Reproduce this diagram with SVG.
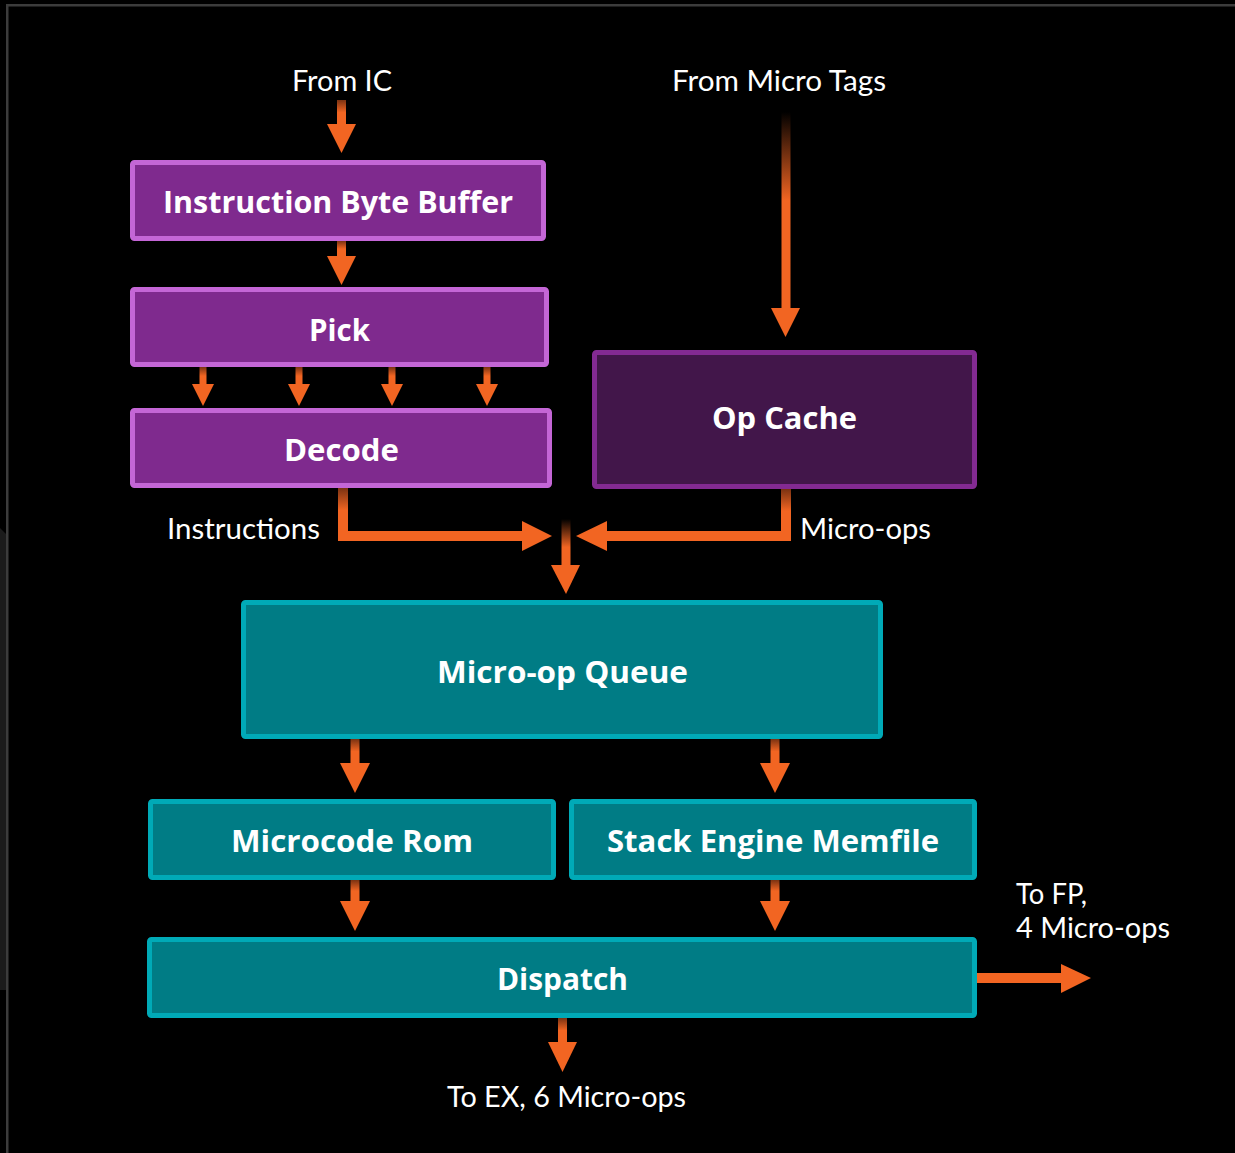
<svg xmlns="http://www.w3.org/2000/svg" width="1235" height="1153" viewBox="0 0 1235 1153">
  <defs>
    <style>
      .lbl { font-family: Lato, "Open Sans", "Liberation Sans", sans-serif; font-size: 29px; fill: #ffffff; }
      .name { font-family: "Open Sans", "Liberation Sans", sans-serif; font-size: 30px; font-weight: bold; fill: #ffffff; }
      .fe { fill: #7f2a8e; stroke: #c466d6; stroke-width: 5; }
      .oc { fill: #42164a; stroke: #832a92; stroke-width: 5; }
      .be { fill: #007c85; stroke: #00aab7; stroke-width: 5; }
      .head { fill: #f26522; }
      .flat { fill: #f26522; }
      .shaft { fill: url(#fade); }
    </style>
    <!-- short shafts: dim at the source end, full orange toward the head -->
    <linearGradient id="fade" x1="0" y1="0" x2="0" y2="1">
      <stop offset="0" stop-color="#7a3212"/>
      <stop offset="0.5" stop-color="#f26522"/>
      <stop offset="1" stop-color="#f26522"/>
    </linearGradient>
    <!-- long shafts that emerge out of the dark -->
    <linearGradient id="emerge" x1="0" y1="0" x2="0" y2="1">
      <stop offset="0" stop-color="#000000"/>
      <stop offset="0.45" stop-color="#f26522"/>
      <stop offset="1" stop-color="#f26522"/>
    </linearGradient>
    <linearGradient id="emergeShort" x1="0" y1="0" x2="0" y2="1">
      <stop offset="0" stop-color="#000000"/>
      <stop offset="0.6" stop-color="#f26522"/>
      <stop offset="1" stop-color="#f26522"/>
    </linearGradient>
  </defs>

  <!-- backdrop and frame -->
  <rect x="0" y="0" width="1235" height="1153" fill="#000000"/>
  <polygon points="0,528 6,534 6,990 0,990" fill="#1b1b1b"/>
  <rect x="6" y="4" width="1229" height="2.5" fill="#3c3c3c"/>
  <rect x="6" y="4" width="2.5" height="1149" fill="#3c3c3c"/>

  <!-- connectors -->
  <g id="connectors">
    <!-- from IC into the byte buffer -->
    <rect class="shaft" x="337" y="100" width="9" height="25"/>
    <polygon class="head" points="327,124 356,124 341.5,153"/>
    <!-- byte buffer to pick -->
    <rect class="shaft" x="337" y="241" width="9" height="16"/>
    <polygon class="head" points="327,256 356,256 341.5,285"/>
    <!-- pick to decode, four lanes -->
    <rect class="shaft" x="199.5" y="367" width="7" height="18"/>
    <polygon class="head" points="192,384 214,384 203,406"/>
    <rect class="shaft" x="295.5" y="367" width="7" height="18"/>
    <polygon class="head" points="288,384 310,384 299,406"/>
    <rect class="shaft" x="388.5" y="367" width="7" height="18"/>
    <polygon class="head" points="381,384 403,384 392,406"/>
    <rect class="shaft" x="483.5" y="367" width="7" height="18"/>
    <polygon class="head" points="476,384 498,384 487,406"/>
    <!-- from micro tags into op cache -->
    <rect x="781.5" y="112" width="9" height="197" fill="url(#emerge)"/>
    <polygon class="head" points="771,308 800,308 785.5,337"/>
    <!-- decode output (instructions) -->
    <rect class="shaft" x="338" y="488" width="10" height="45"/>
    <rect class="flat" x="338" y="531" width="185" height="10"/>
    <polygon class="head" points="522,521 522,551 552,536"/>
    <!-- op cache output (micro-ops) -->
    <rect class="shaft" x="781" y="489" width="10" height="44"/>
    <rect class="flat" x="606" y="531" width="185" height="10"/>
    <polygon class="head" points="607,521 607,551 576,536"/>
    <!-- merged stream into the queue -->
    <rect x="561.5" y="519" width="9" height="47" fill="url(#emergeShort)"/>
    <polygon class="head" points="551,565 580,565 566,594"/>
    <!-- queue to microcode rom / stack engine -->
    <rect class="shaft" x="350.5" y="739" width="9" height="25"/>
    <polygon class="head" points="340,763 370,763 355,793"/>
    <rect class="shaft" x="770.5" y="739" width="9" height="25"/>
    <polygon class="head" points="760,763 790,763 775,793"/>
    <!-- microcode rom / stack engine to dispatch -->
    <rect class="shaft" x="350.5" y="880" width="9" height="22"/>
    <polygon class="head" points="340,901 370,901 355,931"/>
    <rect class="shaft" x="770.5" y="880" width="9" height="22"/>
    <polygon class="head" points="760,901 790,901 775,931"/>
    <!-- dispatch outputs -->
    <rect class="shaft" x="558" y="1018" width="9" height="25"/>
    <polygon class="head" points="548,1042 577,1042 562.5,1072"/>
    <rect class="flat" x="977" y="973" width="85" height="10"/>
    <polygon class="head" points="1061,964 1061,993 1091,978"/>
  </g>

  <!-- nodes -->
  <g id="byte-buffer">
    <rect class="fe" x="132.5" y="162.5" width="411" height="76" rx="2"/>
    <text class="name" x="163" y="213" textLength="350" lengthAdjust="spacingAndGlyphs">Instruction Byte Buffer</text>
  </g>
  <g id="pick">
    <rect class="fe" x="132.5" y="289.5" width="414" height="75" rx="2"/>
    <text class="name" x="309" y="341" textLength="61" lengthAdjust="spacingAndGlyphs">Pick</text>
  </g>
  <g id="decode">
    <rect class="fe" x="132.5" y="410.5" width="417" height="75" rx="2"/>
    <text class="name" x="284" y="461" textLength="115" lengthAdjust="spacingAndGlyphs">Decode</text>
  </g>
  <g id="op-cache">
    <rect class="oc" x="594.5" y="352.5" width="380" height="134" rx="2"/>
    <text class="name" x="712" y="429" textLength="145" lengthAdjust="spacingAndGlyphs">Op Cache</text>
  </g>
  <g id="micro-op-queue">
    <rect class="be" x="243.5" y="602.5" width="637" height="134" rx="2"/>
    <text class="name" x="437" y="683" textLength="251" lengthAdjust="spacingAndGlyphs">Micro-op Queue</text>
  </g>
  <g id="microcode-rom">
    <rect class="be" x="150.5" y="801.5" width="403" height="76" rx="2"/>
    <text class="name" x="231" y="852" textLength="242" lengthAdjust="spacingAndGlyphs">Microcode Rom</text>
  </g>
  <g id="stack-engine">
    <rect class="be" x="571.5" y="801.5" width="403" height="76" rx="2"/>
    <text class="name" x="607" y="852" textLength="332" lengthAdjust="spacingAndGlyphs">Stack Engine Memfile</text>
  </g>
  <g id="dispatch">
    <rect class="be" x="149.5" y="939.5" width="825" height="76" rx="2"/>
    <text class="name" x="497" y="990" textLength="131" lengthAdjust="spacingAndGlyphs">Dispatch</text>
  </g>

  <!-- free labels -->
  <g id="labels">
    <text class="lbl" x="292" y="91" textLength="100" lengthAdjust="spacingAndGlyphs">From IC</text>
    <text class="lbl" x="672" y="91" textLength="214" lengthAdjust="spacingAndGlyphs">From Micro Tags</text>
    <text class="lbl" x="167" y="539" textLength="153" lengthAdjust="spacingAndGlyphs">Instructions</text>
    <text class="lbl" x="800" y="539" textLength="131" lengthAdjust="spacingAndGlyphs">Micro-ops</text>
    <text class="lbl" x="1016" y="904" textLength="71" lengthAdjust="spacingAndGlyphs">To FP,</text>
    <text class="lbl" x="1016" y="938" textLength="154" lengthAdjust="spacingAndGlyphs">4 Micro-ops</text>
    <text class="lbl" x="447" y="1107" textLength="239" lengthAdjust="spacingAndGlyphs">To EX, 6 Micro-ops</text>
  </g>
</svg>
